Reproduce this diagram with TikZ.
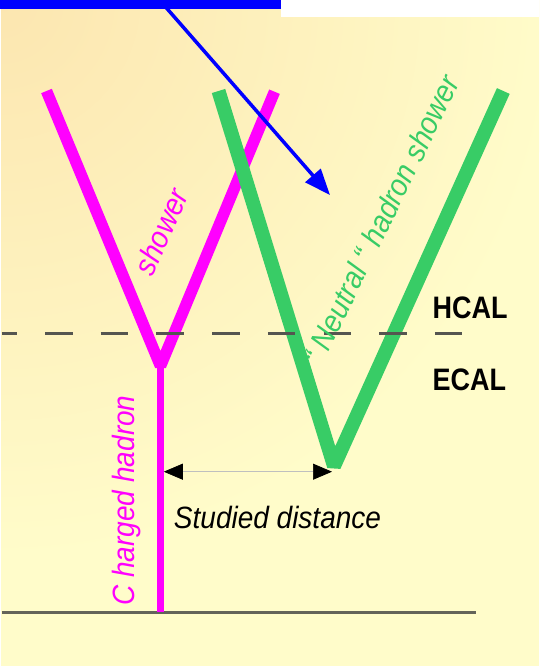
\documentclass[tikz,border=0pt]{standalone}
\usepackage{fontspec}
\setmainfont{Liberation Sans}
\usetikzlibrary{arrows.meta}
\definecolor{cream}{RGB}{255,252,202}
\definecolor{peach}{RGB}{252,230,176}
\definecolor{mag}{RGB}{255,0,255}
\definecolor{grn}{RGB}{56,204,102}
\definecolor{dashgray}{RGB}{85,85,80}
\definecolor{basegray}{RGB}{100,100,90}
\begin{document}
\begin{tikzpicture}[x=1pt,y=-1pt,
  lbl/.style={font=\fontsize{28}{30}\selectfont\itshape, inner sep=0pt, anchor=base},
  caltext/.style={font=\fontsize{27}{30}\selectfont\bfseries, text=black, inner sep=0pt, anchor=base west, yscale=1.15},
  magline/.style={draw=mag, line width=11.5pt, line join=bevel},
  grnline/.style={draw=grn, line width=14pt, line join=bevel},
  dim/.style={draw=black!25, line width=0.7pt, {Triangle[length=19pt,width=16pt,color=black]}-{Triangle[length=19pt,width=16pt,color=black]}},
  pointer/.style={draw=blue, line width=3.5pt, -{Triangle[length=26pt,width=20pt]}}]
\useasboundingbox (0,0) rectangle (539,666);
% background
\fill[cream] (0,0) rectangle (539,666);
\begin{scope}
  \clip (0,0) rectangle (539,666);
  \shade[inner color=peach, outer color=cream] (0,0) circle (560);
\end{scope}
\fill[white] (0,0) rectangle (1.3,666);
\fill[white] (281,0) rectangle (539,17);
% coordinates
\coordinate (mL) at (46.5,91);
\coordinate (mR) at (274.5,91.7);
\coordinate (mV) at (160.5,366);
\coordinate (mB) at (160.5,612.3);
\coordinate (gL) at (218.5,91);
\coordinate (gR) at (503.3,91);
\coordinate (gV) at (334,466);
\coordinate (bS) at (163,4);
\coordinate (bT) at (330,195);
\coordinate (dA) at (163.8,471.7);
\coordinate (dB) at (332,471.7);
\coordinate (lineL) at (1.5,612.3);
\coordinate (lineR) at (476,612.3);
\coordinate (dashL) at (1.5,333.5);
\coordinate (dashR) at (462.5,333.5);
% bottom line
\draw[basegray, line width=2.6pt] (lineL) -- (lineR);
% showers
\draw[magline] (mL) -- (mV) -- (mR);
\draw[mag, line width=7pt] (mV) -- (mB);
\draw[grnline] (gL) -- (gV) -- (gR);
% blue pointer
\draw[pointer] (bS) -- (bT);
\fill[blue] (0,0) rectangle (281,9);
% layer boundary
\draw[dashgray, line width=2.3pt, dash pattern=on 27.5pt off 28.2pt, dash phase=12.2pt] (dashL) -- (dashR);
% distance
\draw[dim] (dA) -- (dB);
% texts
\node[lbl, text=mag, rotate=90, yscale=1.1] (ch) at (134.5,500.5) {C harged hadron};
\node[lbl, text=mag, rotate=66, yscale=1.1] (sh) at (171,236) {shower};
\node[lbl, text=grn, rotate=64, yscale=1.1] (ns) at (391,225) {“ Neutral “ hadron shower};
\node[lbl, text=black, yscale=1.1] (sd) at (277.5,528) {Studied distance};
\node[caltext] (hc) at (432.5,318) {HCAL};
\node[caltext] (ec) at (432.5,390) {ECAL};
\end{tikzpicture}
\end{document}
